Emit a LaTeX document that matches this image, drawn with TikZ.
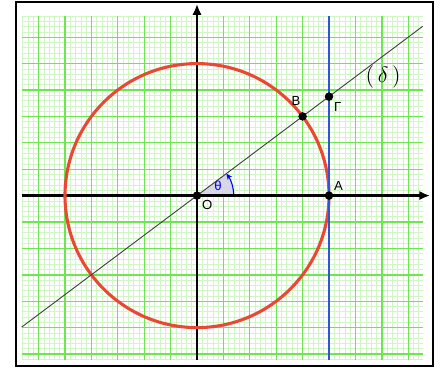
\documentclass[tikz,border=0pt]{standalone}
\usepackage{fontspec}
\setmainfont{Liberation Sans}
\usetikzlibrary{arrows.meta, positioning, calc}
\definecolor{majgreen}{RGB}{110,230,80}
\definecolor{mingreen}{RGB}{208,246,198}
\definecolor{circred}{RGB}{234,72,52}
\definecolor{lineblue}{RGB}{45,85,215}

\begin{document}
\begin{tikzpicture}[
        x=0.6cm, y=0.6cm,
        font=\fontsize{8.5}{10}\selectfont,
        dot/.style={circle, fill=black, inner sep=0pt, minimum size=5.5pt},
        lbl/.style={inner sep=1pt},
        axis/.style={line width=1.8pt, -{Latex[length=7pt, width=6pt]}}
    ]
        \useasboundingbox (-7.462,-6.682) rectangle (9.280,7.409);

        % millimetre paper
        \draw[mingreen, line width=0.4pt, step=0.2] (-6.64,-6.23) grid (8.55,6.8);
        \draw[majgreen, line width=0.9pt, step=1]   (-6.64,-6.23) grid (8.55,6.8);
        \draw[line width=1.4pt] (-6.856,-6.455) rectangle (8.939,7.333);

        \coordinate (o)  at (0,0);
        \coordinate (xl) at (-6.64,0);
        \coordinate (xr) at (8.83,0);
        \coordinate (yb) at (0,-6.23);
        \coordinate (yt) at (0,7.26);
        \coordinate (bt) at (5,6.8);
        \coordinate (bb) at (5,-6.23);
        \coordinate (dl) at (-6.64,-4.98);
        \coordinate (dr) at (8.55,6.4125);

        % angle theta
        \fill[blue!25!gray!25] (o) -- (1.39,0) arc[start angle=0, end angle=36.87, radius=1.39] -- cycle;
        \draw[blue, line width=0.7pt, -{Stealth[length=4pt, width=3.5pt]}] (1.39,0) arc[start angle=0, end angle=36.87, radius=1.39];

        \draw[axis] (xl) -- (xr);
        \draw[axis] (yb) -- (yt);
        \draw[circred, line width=2pt] (o) circle[radius=5];
        \draw[lineblue, line width=1.6pt] (bb) -- (bt);
        \draw[black!75, line width=0.6pt] (dl) -- (dr);

        \node[dot] (O) at (o)       {};
        \node[dot] (A) at (5,0)     {};
        \node[dot] (B) at (4,3)     {};
        \node[dot] (G) at (5,3.75)  {};

        \node[lbl, below right=0pt of O]          (labO) {O};
        \node[lbl, above right=0pt of A]          (labA) {A};
        \node[lbl, above=3pt of B, xshift=-4.3pt] (labB) {B};
        \node[lbl, below right=0.3pt and 0pt of G] (labG) {Γ};
        \node[lbl, blue] (labT) at (0.80,0.36) {θ};
        \node[font=\fontsize{14}{16}\selectfont] (labD) at (7.05,4.49) {$(\,\delta\,)$};
    \end{tikzpicture}
\end{document}
